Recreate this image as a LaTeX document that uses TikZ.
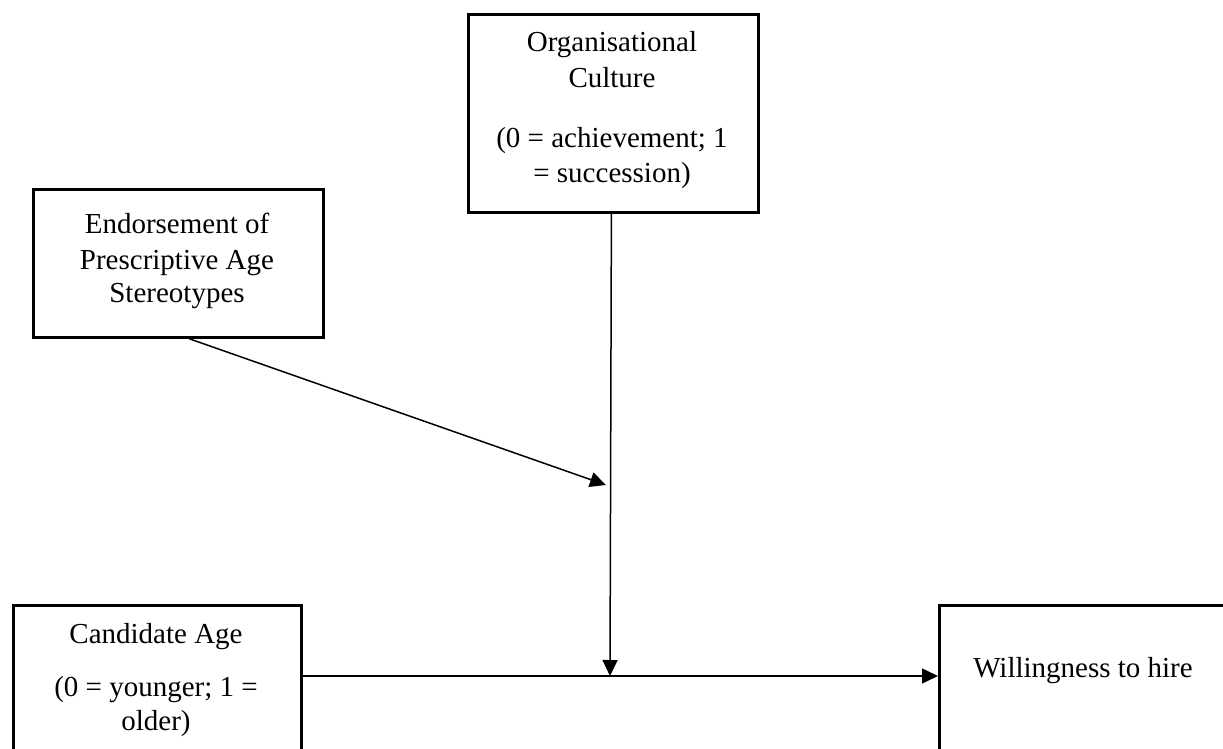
\documentclass[tikz,border=0pt]{standalone}
\usepackage{fontspec}
\setmainfont{Liberation Serif}
\usetikzlibrary{arrows.meta}
\begin{document}
\begin{tikzpicture}[x=1pt,y=-1pt,
  box/.style={draw,line width=2.8pt,inner sep=0pt,anchor=north west},
  lbl/.style={anchor=base,inner sep=0pt,font=\fontsize{29}{35}\selectfont},
  link/.style={line width=1.5pt,-{Triangle[length=16pt,width=15pt]}}]
\useasboundingbox (0,0) rectangle (1223,749);
\clip (0,0) rectangle (1223,749);

% boxes
\node[box,minimum width=290pt,minimum height=198pt] (org) at (467,13) {};
\node[box,minimum width=290pt,minimum height=148pt] (endorse) at (32,188) {};
\node[box,minimum width=288pt,minimum height=200pt] (cand) at (12,604) {};
\node[box,minimum width=292pt,minimum height=200pt] (will) at (938,604) {};

% labels
\node[lbl] (o1) at (612,52) {Organisational};
\node[lbl] (o2) at (612,88) {Culture};
\node[lbl] (o3) at (612,147) {(0 = achievement; 1};
\node[lbl] (o4) at (612,182) {= succession)};

\node[lbl] (e1) at (177,233) {Endorsement of};
\node[lbl] (e2) at (177,269) {Prescriptive Age};
\node[lbl] (e3) at (177,302) {Stereotypes};

\node[lbl] (c1) at (156,643) {Candidate Age};
\node[lbl] (c2) at (156,696) {(0 = younger; 1 =};
\node[lbl] (c3) at (156,730) {older)};

\node[lbl] (w1) at (1083,677) {Willingness to hire};

% connectors
\coordinate (m) at (610,676);
\coordinate (d) at (606,485);
\draw[link] (cand.east |- m) -- (will.west |- m);
\draw[link] ([xshift=-2pt]org.south) -- (m);
\draw[link] ([xshift=11pt]endorse.south) -- (d);
\end{tikzpicture}
\end{document}
